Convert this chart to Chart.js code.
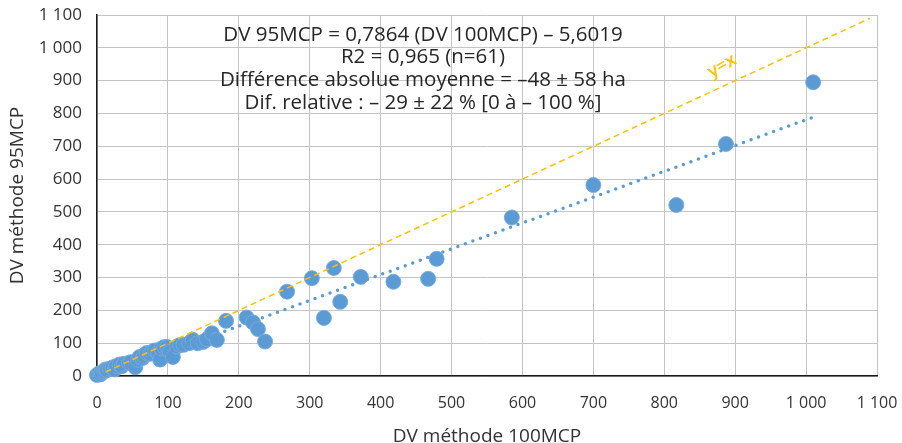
<!DOCTYPE html>
<html>
<head>
<meta charset="utf-8">
<script src="https://cdn.jsdelivr.net/npm/chart.js@4.4.1/dist/chart.umd.min.js"></script>
<style>
  html, body { margin: 0; padding: 0; background: #fff; }
  #wrap { width: 902px; height: 443px; position: relative; }
</style>
</head>
<body>
<div id="wrap"><canvas id="chart"></canvas></div>
<script>
// DV 100MCP (x) vs DV 95MCP (y)
const dv100 = [0, 3, 5, 7, 10, 12, 14, 18, 22, 25, 27, 32, 35, 38, 45, 48, 54, 58, 60, 64, 66, 70, 75, 78, 82, 86, 89, 91, 95, 99,
  103, 107, 113, 117, 122, 130, 135, 142, 150, 155, 162, 169, 182, 211, 220, 227, 237, 268, 303, 320, 334, 343, 372, 418, 467,
  479, 585, 700, 817, 887, 1010];
const dv95 = [3, 8, 5, 10, 14, 20, 18, 22, 26, 20, 30, 35, 30, 37, 40, 42, 27, 49, 58, 55, 62, 70, 68, 74, 78, 70, 50, 84, 88, 88,
  74, 58, 90, 94, 95, 100, 110, 100, 104, 112, 130, 110, 168, 178, 163, 143, 105, 257, 298, 177, 329, 226, 302, 287, 296,
  357, 483, 582, 521, 707, 895];

// trend lines (endpoints)
const regX = [0, 1010];
const regY = [-5.6, 788.7];
const idX = [12, 1090];
const idY = [12, 1090];

const axisTicks = [0, 100, 200, 300, 400, 500, 600, 700, 800, 900, 1000, 1100];

const annotation = [
  'DV 95MCP = 0,7864 (DV 100MCP) – 5,6019',
  'R2 = 0,965 (n=61)',
  'Différence absolue moyenne = –48 ± 58 ha',
  'Dif. relative : – 29 ± 22 % [0 à – 100 %]'
];

const BLUE = '#5B9BD5';
const GOLD = '#FFC000';

function fmt(v) {
  return v >= 1000 ? Math.floor(v / 1000) + ' ' + String(v % 1000).padStart(3, '0') : String(v);
}

const textPlugin = {
  id: 'texts',
  afterDatasetsDraw(chart) {
    const ctx = chart.ctx;
    ctx.save();
    ctx.fillStyle = '#262626';
    ctx.font = '20.5px "Open Sans", sans-serif';
    ctx.textAlign = 'center';
    ctx.textBaseline = 'middle';
    const ys = [35, 57, 80, 103];
    annotation.forEach((t, i) => ctx.fillText(t, 423, ys[i]));

    ctx.translate(722, 66);
    ctx.rotate(-30 * Math.PI / 180);
    ctx.fillStyle = GOLD;
    ctx.font = '600 18px "Open Sans", sans-serif';
    ctx.fillText('y=x', 0, 0);
    ctx.restore();
  }
};

const pts = dv100.map((x, i) => ({ x, y: dv95[i] }));

new Chart(document.getElementById('chart'), {
  type: 'scatter',
  data: {
    datasets: [
      {
        type: 'line',
        data: idX.map((x, i) => ({ x, y: idY[i] })),
        borderColor: GOLD,
        borderWidth: 1.5,
        borderDash: [6, 4],
        pointRadius: 0,
        fill: false
      },
      {
        type: 'line',
        data: regX.map((x, i) => ({ x, y: regY[i] })),
        borderColor: BLUE,
        borderWidth: 3.5,
        borderDash: [0, 8],
        borderCapStyle: 'round',
        pointRadius: 0,
        fill: false
      },
      {
        data: pts,
        clip: false,
        backgroundColor: BLUE,
        borderColor: 'rgba(120,170,220,0.9)',
        borderWidth: 1,
        pointRadius: 7.5,
        pointHoverRadius: 7.5
      }
    ]
  },
  options: {
    responsive: true,
    maintainAspectRatio: false,
    animation: false,
    layout: { padding: { top: 15, right: 25, left: 0, bottom: 0 } },
    plugins: { legend: { display: false }, tooltip: { enabled: false } },
    scales: {
      x: {
        type: 'linear',
        min: 0, max: 1100,
        afterBuildTicks: s => { s.ticks = axisTicks.map(v => ({ value: v })); },
        afterFit: s => { s.height = 67; s.paddingLeft = 0; s.paddingRight = 0; },
        grid: { color: '#C4C4C4', borderDash: [3, 3], drawTicks: false, lineWidth: 1 },
        border: { display: true, color: '#1a1a1a', width: 1.5 },
        ticks: { padding: 18, color: '#333', font: { family: '"Open Sans", sans-serif', size: 16 }, callback: v => fmt(v), maxRotation: 0 },
        title: { display: true, text: 'DV méthode 100MCP', color: '#333', font: { family: '"Open Sans", sans-serif', size: 19 }, padding: { top: 0, bottom: -5 } }
      },
      y: {
        type: 'linear',
        min: 0, max: 1100,
        afterBuildTicks: s => { s.ticks = axisTicks.map(v => ({ value: v })); },
        afterFit: s => { s.width = 97; s.paddingTop = 0; s.paddingBottom = 0; },
        grid: { color: '#C4C4C4', borderDash: [3, 3], drawTicks: false, lineWidth: 1 },
        border: { display: true, color: '#1a1a1a', width: 1.5 },
        ticks: { padding: 15, color: '#333', font: { family: '"Open Sans", sans-serif', size: 17 }, callback: v => fmt(v) },
        title: { display: true, text: 'DV méthode 95MCP', color: '#333', font: { family: '"Open Sans", sans-serif', size: 19 }, padding: { top: 6, bottom: 0 } }
      }
    }
  },
  plugins: [textPlugin]
});
</script>
</body>
</html>
